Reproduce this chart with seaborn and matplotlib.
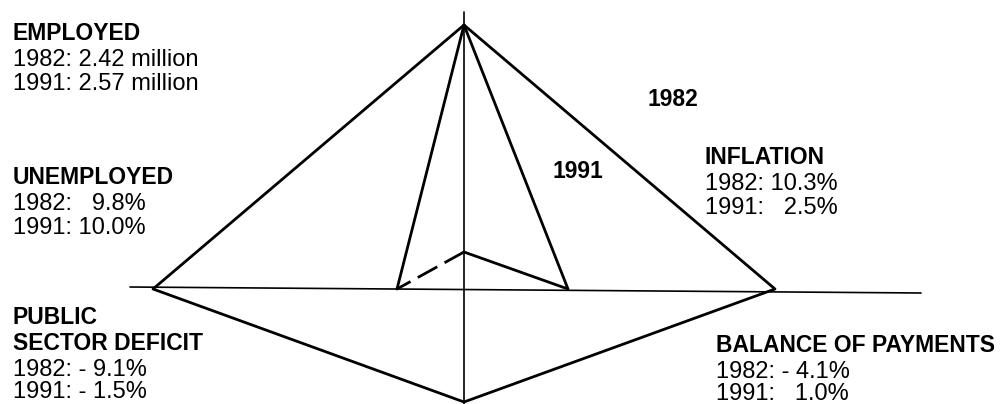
import matplotlib
matplotlib.use("Agg")
import matplotlib.pyplot as plt
import seaborn as sns
import pandas as pd
import numpy as np

# ---- data (schematic reach of each vertex from the centre, in chart units) ----
directions = ["top", "right", "bottom", "left"]
reach_1982 = [264, 311, 113, 311]     # bottom: downward (deficit)
reach_1991 = [264, 104, -37, 67]      # negative bottom => above the axis

year_labels = ["1982", "1991"]

employed = ["1982: 2.42 million", "1991: 2.57 million"]
unemployed = ["1982:   9.8%", "1991: 10.0%"]
inflation = ["1982: 10.3%", "1991:   2.5%"]
deficit = ["1982: - 9.1%", "1991: - 1.5%"]
payments = ["1982: - 4.1%", "1991:   1.0%"]

# ---- layout ----
W, H = 1003, 404
cx, cy = 464, 289
unit = {"top": (0, -1), "right": (1, 0), "bottom": (0, 1), "left": (-1, 0)}

sns.set_theme(style="white")
plt.rcParams["font.family"] = ["Liberation Sans", "DejaVu Sans"]
plt.rcParams["text.color"] = "black"

fig = plt.figure(figsize=(W / 100, H / 100), dpi=100)
ax = fig.add_axes([0, 0, 1, 1])


def vertices(reach):
    pts = {}
    for d, r in zip(directions, reach):
        ux, uy = unit[d]
        pts[d] = (cx + ux * r, cy + uy * r)
    return pts


def seg(points, names, **kw):
    df = pd.DataFrame({"x": [points[n][0] for n in names],
                       "y": [points[n][1] for n in names]})
    sns.lineplot(data=df, x="x", y="y", sort=False, estimator=None,
                 ax=ax, color="black", **kw)


# axes lines
axes_df = pd.DataFrame({"x": [130, 921], "y": [cy - 2, cy + 4]})
sns.lineplot(data=axes_df, x="x", y="y", sort=False, estimator=None,
             ax=ax, color="black", linewidth=1.2)
vert_df = pd.DataFrame({"x": [cx, cx], "y": [12, H]})
sns.lineplot(data=vert_df, x="x", y="y", sort=False, estimator=None,
             ax=ax, color="black", linewidth=1.2)

p82 = vertices(reach_1982)
p91 = vertices(reach_1991)

seg(p82, ["top", "right", "bottom", "left", "top"], linewidth=2.0)
seg(p91, ["left", "top", "right", "bottom"], linewidth=2.0)
seg(p91, ["bottom", "left"], linewidth=2.0, linestyle=(0, (8, 3)))

ax.set_xlabel("")
ax.set_ylabel("")
ax.set_xlim(0, W)
ax.set_ylim(H, 0)
ax.axis("off")

FB = 16.5   # bold size
FR = 17     # regular size
CAP = 16.5


def block(x, top, heads, lines, g_hh=26, g_hl=27, g_ll=24):
    y = top + CAP
    for i, h in enumerate(heads):
        ax.text(x, y, h, fontsize=FB, fontweight="bold", va="baseline",
                ha="left", color="black")
        y += g_hh if i < len(heads) - 1 else g_hl
    for l in lines:
        ax.text(x, y, l, fontsize=FR, va="baseline", ha="left", color="black")
        y += g_ll


block(13, 23, ["EMPLOYED"], employed)
block(13, 167, ["UNEMPLOYED"], unemployed)
block(705, 147, ["INFLATION"], inflation)
block(13, 307, ["PUBLIC", "SECTOR DEFICIT"], deficit, g_hh=26, g_hl=26, g_ll=23)
block(716, 335, ["BALANCE OF PAYMENTS"], payments, g_hl=26, g_ll=23)

ax.text(648, 90 + CAP, year_labels[0], fontsize=FB, fontweight="bold",
        va="baseline", color="black")
ax.text(553, 162 + CAP, year_labels[1], fontsize=FB, fontweight="bold",
        va="baseline", color="black")

fig.savefig("out.png", dpi=100, facecolor="white")
